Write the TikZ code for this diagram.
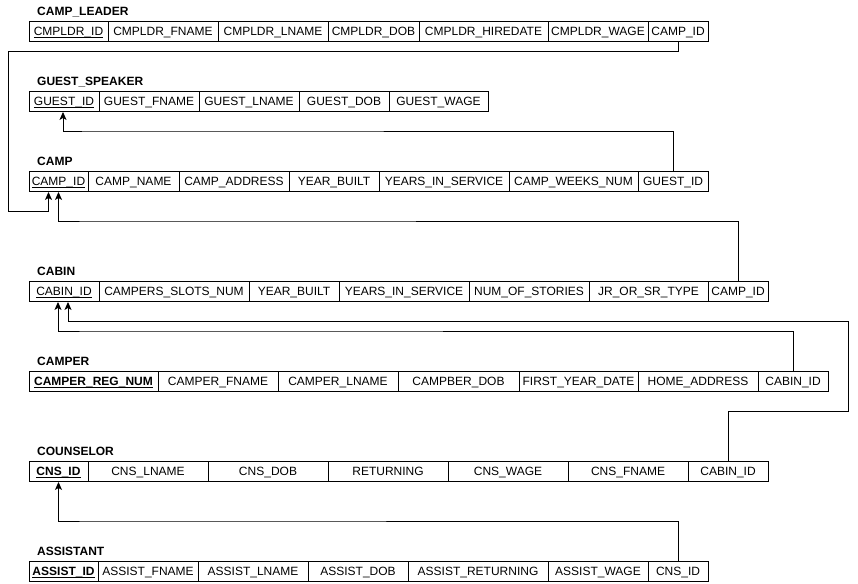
\documentclass[tikz,border=0pt]{standalone}
\usepackage{fontspec}
\setmainfont{Liberation Sans}
\usetikzlibrary{arrows.meta}
\newcommand\pkey[1]{\setbox0\hbox{#1}\rlap{\rule[-1.9pt]{\wd0}{0.8pt}}\box0}
\begin{document}
\begin{tikzpicture}[x=1pt,y=-1pt,
  every node/.style={font=\fontsize{12}{14}\selectfont},
  cell/.style={draw, line width=0.9pt, minimum height=20pt, inner xsep=0pt, inner ysep=0pt, text height=8.6pt, text depth=0pt, anchor=center},
  ttl/.style={anchor=west, inner sep=0pt, text height=8.6pt, text depth=0pt, font=\fontsize{12}{14}\selectfont\bfseries},
  fk/.style={line width=0.9pt, -{Stealth[length=8pt,width=7pt,inset=2pt]}}]
\useasboundingbox (0,0) rectangle (858,583);

% CAMP_LEADER
\node[ttl] (tcl) at (37,11.5) {CAMP\_LEADER};
\foreach \a/\b/\t [count=\i] in {29/108/{\pkey{CMPLDR\_ID}},108/218/CMPLDR\_FNAME,218/328/CMPLDR\_LNAME,328/419/CMPLDR\_DOB,419/548/CMPLDR\_HIREDATE,548/648/CMPLDR\_WAGE,648/708/CAMP\_ID}{
  \pgfmathsetmacro\w{\b-\a}\pgfmathsetmacro\c{(\a+\b)/2}
  \node[cell, minimum width=\w pt] (cl\i) at (\c,31.5) {\t};}

% GUEST_SPEAKER
\node[ttl] (tg) at (37,81.5) {GUEST\_SPEAKER};
\foreach \a/\b/\t [count=\i] in {29/99/{\pkey{GUEST\_ID}},99/199/GUEST\_FNAME,199/299/GUEST\_LNAME,299/389/GUEST\_DOB,389/488/GUEST\_WAGE}{
  \pgfmathsetmacro\w{\b-\a}\pgfmathsetmacro\c{(\a+\b)/2}
  \node[cell, minimum width=\w pt] (g\i) at (\c,101.5) {\t};}

% CAMP
\node[ttl] (tc) at (37,161.5) {CAMP};
\foreach \a/\b/\t [count=\i] in {29/88/{\pkey{CAMP\_ID}},88/179/CAMP\_NAME,179/289/CAMP\_ADDRESS,289/379/YEAR\_BUILT,379/509/YEARS\_IN\_SERVICE,509/638/CAMP\_WEEKS\_NUM,638/708/GUEST\_ID}{
  \pgfmathsetmacro\w{\b-\a}\pgfmathsetmacro\c{(\a+\b)/2}
  \node[cell, minimum width=\w pt] (c\i) at (\c,181.5) {\t};}

% CABIN
\node[ttl] (tk) at (37,271.5) {CABIN};
\foreach \a/\b/\t [count=\i] in {29/99/{\pkey{CABIN\_ID}},99/249/CAMPERS\_SLOTS\_NUM,249/339/YEAR\_BUILT,339/469/YEARS\_IN\_SERVICE,469/589/NUM\_OF\_STORIES,589/708/JR\_OR\_SR\_TYPE,708/768/CAMP\_ID}{
  \pgfmathsetmacro\w{\b-\a}\pgfmathsetmacro\c{(\a+\b)/2}
  \node[cell, minimum width=\w pt] (k\i) at (\c,291.5) {\t};}

% CAMPER
\node[ttl] (tm) at (37,361.5) {CAMPER};
\foreach \a/\b/\t [count=\i] in {29/158/{\pkey{\bfseries CAMPER\_REG\_NUM}},158/278/CAMPER\_FNAME,278/398/CAMPER\_LNAME,398/519/CAMPBER\_DOB,519/638/FIRST\_YEAR\_DATE,638/758/HOME\_ADDRESS,758/828/CABIN\_ID}{
  \pgfmathsetmacro\w{\b-\a}\pgfmathsetmacro\c{(\a+\b)/2}
  \node[cell, minimum width=\w pt] (m\i) at (\c,381.5) {\t};}

% COUNSELOR
\node[ttl] (tn) at (37,451.5) {COUNSELOR};
\foreach \a/\b/\t [count=\i] in {29/88/{\pkey{\bfseries CNS\_ID}},88/208/CNS\_LNAME,208/328/CNS\_DOB,328/448/RETURNING,448/568/CNS\_WAGE,568/688/CNS\_FNAME,688/768/CABIN\_ID}{
  \pgfmathsetmacro\w{\b-\a}\pgfmathsetmacro\c{(\a+\b)/2}
  \node[cell, minimum width=\w pt] (n\i) at (\c,471.5) {\t};}

% ASSISTANT
\node[ttl] (ta) at (37,551.5) {ASSISTANT};
\foreach \a/\b/\t [count=\i] in {29/98/{\pkey{\bfseries ASSIST\_ID}},98/198/ASSIST\_FNAME,198/308/ASSIST\_LNAME,308/408/ASSIST\_DOB,408/548/ASSIST\_RETURNING,548/648/ASSIST\_WAGE,648/708/CNS\_ID}{
  \pgfmathsetmacro\w{\b-\a}\pgfmathsetmacro\c{(\a+\b)/2}
  \node[cell, minimum width=\w pt] (a\i) at (\c,571.5) {\t};}

% connectors
\draw[fk] (cl7.south) |- (8,51) -- (8,211) -| ([xshift=-10pt]c1.south);
\draw[fk] (c7.north) |- (100,131) -| ([xshift=-1pt]g1.south);
\draw[fk] (k7.north) |- (100,221) -| (c1.south);
\draw[fk] (m7.north) |- (100,331) -| ([xshift=-6pt]k1.south);
\draw[fk] (n7.north) |- (848,411) -- (848,321) -| ([xshift=4pt]k1.south);
\draw[fk] (a7.north) |- (100,521) -| (n1.south);
\end{tikzpicture}
\end{document}
